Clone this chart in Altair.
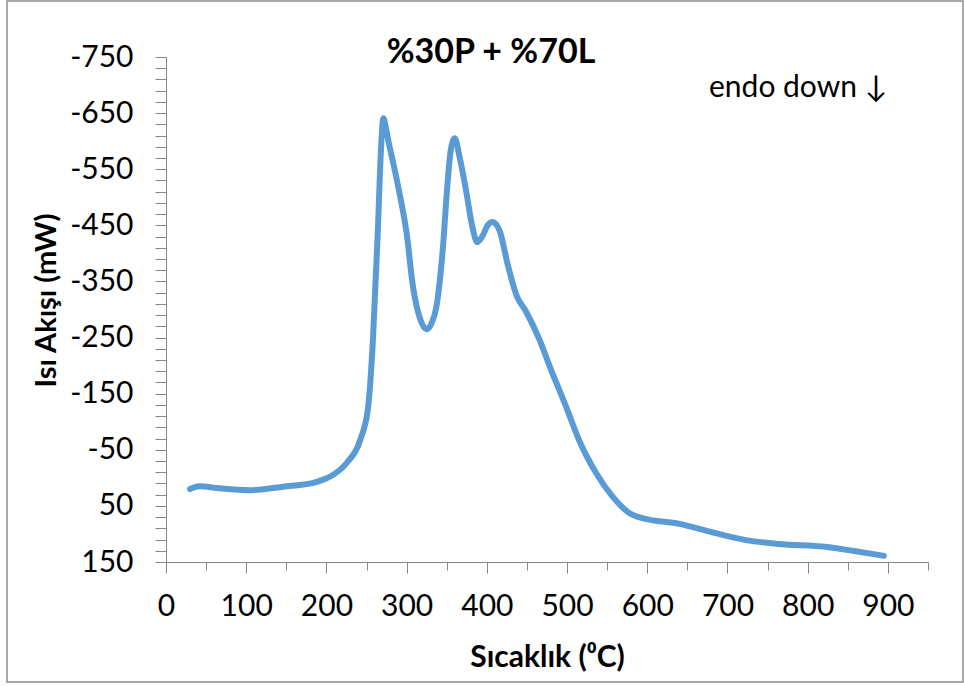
import altair as alt
import pandas as pd

# Temperature (°C) and heat flow (mW)
temps = [30, 35, 42, 63, 105, 146, 188, 208, 225, 242, 252, 258, 264, 268, 271,
         274, 278, 283, 291, 300, 308, 316, 325, 331, 337, 345, 351, 355, 360, 366,
         374, 382, 388, 395, 401, 407, 416, 426, 437, 449, 466, 478, 499, 515,
         536, 557, 578, 594, 640, 681, 723, 764, 822, 856, 895]
heat = [20, 17, 15, 18, 22, 16, 7, -5, -26, -67, -126, -246, -436, -584, -641,
        -625, -595, -563, -508, -436, -340, -287, -265, -275, -304, -406, -525, -584,
        -605, -572, -513, -447, -420, -432, -450, -456, -440, -380, -325, -296,
        -245, -200, -126, -67, -9, 34, 63, 72, 82, 97, 111, 118, 123, 130, 139]

x_ticks = list(range(0, 951, 50))
y_ticks = list(range(-750, 151, 20))

title_text = "%30P + %70L"
note_text = "endo down ↓"
x_title = "Sıcaklık (⁰C)"
y_title = "Isı Akışı (mW)"

df = pd.DataFrame({"T": temps, "Q": heat})
one = alt.Data(values=[{"k": 1}])

FONT = "Lato"
AX = "#868686"

line = alt.Chart(df).mark_line(
    color="#5B9BD5", strokeWidth=6, interpolate="monotone",
    strokeCap="round", strokeJoin="round"
).encode(
    x=alt.X("T:Q",
            scale=alt.Scale(domain=[0, 950], nice=False, zero=False),
            axis=alt.Axis(values=x_ticks,
                          labelExpr="datum.value % 100 == 0 ? '' + datum.value : ''",
                          tickSize={"condition": {"test": "datum.value % 100 == 0", "value": 11}, "value": 8},
                          labelPadding=18, labelOverlap=False, labelFlush=False,
                          title=x_title, titleY=104, titleBaseline="alphabetic",
                          titleFontSize=30, titleFontWeight="bold", titleFont=FONT,
                          grid=False)),
    y=alt.Y("Q:Q",
            scale=alt.Scale(domain=[-750, 150], reverse=True, nice=False, zero=False),
            axis=alt.Axis(values=y_ticks,
                          labelExpr="abs(datum.value % 100) == 50 ? '' + datum.value : ''",
                          tickSize=11, labelPadding=22, labelOverlap=False, labelFlush=False,
                          title=y_title, titleX=-111, titleY=243, titleAngle=-90,
                          titleAlign="center", titleBaseline="alphabetic",
                          titleFontSize=29, titleFontWeight="bold", titleFont=FONT,
                          grid=False)),
)

frame = alt.Chart(one).mark_rect(fillOpacity=0, stroke="#8C8C8C", strokeWidth=1.5).encode(
    x=alt.value(-159), x2=alt.value(797), y=alt.value(-56), y2=alt.value(625)
)

title = alt.Chart(one).mark_text(
    text=title_text, font=FONT, fontSize=34, fontWeight="bold",
    align="center", baseline="alphabetic", color="#000000"
).encode(x=alt.value(325), y=alt.value(6))

note = alt.Chart(one).mark_text(
    text=note_text, font=FONT, fontSize=30,
    align="left", baseline="alphabetic", color="#000000"
).encode(x=alt.value(543), y=alt.value(40))

chart = alt.layer(frame, line, title, note).properties(
    width=762, height=505,
    autosize=alt.AutoSizeParams(type="none"),
    padding={"left": 166, "top": 57, "right": 36, "bottom": 124},
    background="white",
).configure_view(stroke=None).configure_axis(
    domainColor=AX, tickColor=AX, domainWidth=1, tickWidth=1,
    labelFont=FONT, labelFontSize=30, labelColor="#000000", titleColor="#000000",
)

chart.save("out.html", embed_options={"renderer": "svg", "actions": False})
